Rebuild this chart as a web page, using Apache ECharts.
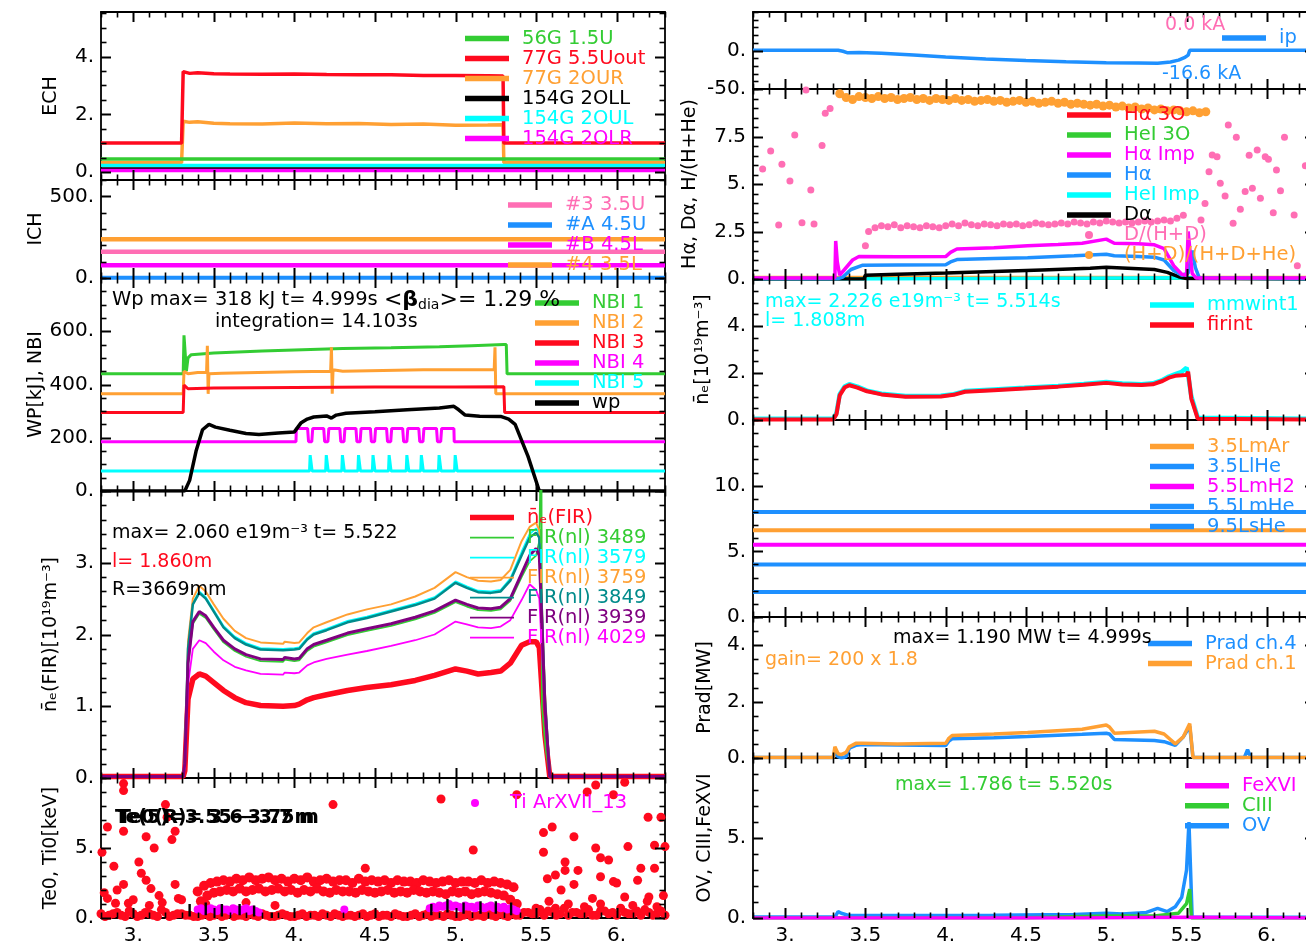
<!DOCTYPE html>
<html><head><meta charset="utf-8">
<script src="https://cdn.jsdelivr.net/npm/echarts@6/dist/echarts.min.js"></script>
<style>html,body{margin:0;padding:0;background:#fff}#c{width:1306px;height:944px}</style>
</head><body><div id="c"></div>
<script>
// ---------------- DATA ----------------
const X_MIN = 2.8, X_MAX = 6.3;
const xMajorTicks = [3, 3.5, 4, 4.5, 5, 5.5, 6];
const echTicks = [0, 2, 4], ichTicks = [0, 500], wpTicks = [0, 200, 400, 600], firTicks = [0, 1, 2, 3], teTicks = [0, 5];
const ipTicks = [-50, 0], haTicks = [0, 2.5, 5, 7.5], neTicks = [0, 2, 4], gasTicks = [0, 5, 10], pradTicks = [0, 2, 4], ovTicks = [0, 5];

const flatT = [2.8, 6.3];
// ECH
const echT = [2.8, 3.30, 3.31, 3.35, 3.4, 3.5, 3.6, 3.8, 4.0, 4.2, 4.4, 4.6, 4.8, 5.0, 5.2, 5.295, 5.30, 6.3];
const ech77out = [1.0, 1.0, 3.48, 3.42, 3.44, 3.41, 3.40, 3.39, 3.40, 3.38, 3.37, 3.37, 3.35, 3.35, 3.34, 3.33, 1.0, 1.0];
const ech77our = [0.32, 0.32, 1.76, 1.72, 1.74, 1.69, 1.67, 1.66, 1.70, 1.67, 1.68, 1.65, 1.66, 1.62, 1.63, 1.64, 0.32, 0.32];
const ech56 = [0.45, 0.45], ech2oll = [0.13, 0.13], ech2oul = [0.22, 0.22], ech2olr = [0.05, 0.05];
// ICH
const ich3 = [160, 160], ichA = [2, 2], ichB = [78, 78], ich4 = [237, 237];
// NBI / wp
const nbi1T = [2.8, 3.31, 3.315, 3.33, 3.34, 3.36, 3.5, 3.8, 4.0, 4.3, 4.6, 4.9, 5.1, 5.3, 5.315, 5.32, 6.3];
const nbi1V = [440, 440, 585, 450, 500, 512, 518, 526, 530, 535, 538, 542, 546, 550, 550, 440, 440];
const nbi2T = [2.8, 3.31, 3.315, 3.34, 3.40, 3.455, 3.46, 3.465, 3.47, 3.55, 4.0, 4.225, 4.23, 4.235, 4.24, 4.3, 4.8, 5.24, 5.245, 5.25, 5.255, 6.3];
const nbi2V = [365, 365, 450, 440, 445, 445, 545, 365, 440, 442, 448, 450, 540, 365, 455, 450, 455, 455, 540, 365, 365, 365];
const nbi3T = [2.8, 3.31, 3.315, 3.34, 3.5, 4.0, 4.5, 5.0, 5.3, 5.305, 6.3];
const nbi3V = [295, 295, 398, 384, 387, 389, 391, 391, 392, 295, 295];
const nbi4T = [2.8, 4.01, 4.012,
  4.082, 4.088, 4.108, 4.114, 4.182, 4.188, 4.208, 4.214, 4.282, 4.288, 4.308, 4.314,
  4.382, 4.388, 4.408, 4.414, 4.472, 4.478, 4.498, 4.504, 4.572, 4.578, 4.598, 4.604,
  4.672, 4.678, 4.698, 4.704, 4.772, 4.778, 4.798, 4.804, 4.882, 4.888, 4.908, 4.914,
  4.99, 4.992, 6.3];
const nbi4V = [185, 185, 235,
  235, 185, 185, 235, 235, 185, 185, 235, 235, 185, 185, 235,
  235, 185, 185, 235, 235, 185, 185, 235, 235, 185, 185, 235,
  235, 185, 185, 235, 235, 185, 185, 235, 235, 185, 185, 235,
  235, 185, 185];
const nbi5T = [2.8,
  4.094, 4.098, 4.106, 4.11, 4.194, 4.198, 4.206, 4.21, 4.294, 4.298, 4.306, 4.31,
  4.394, 4.398, 4.406, 4.41, 4.484, 4.488, 4.496, 4.50, 4.584, 4.588, 4.596, 4.60,
  4.694, 4.698, 4.706, 4.71, 4.784, 4.788, 4.796, 4.80, 4.894, 4.898, 4.906, 4.91,
  4.994, 4.998, 5.006, 5.01, 6.3];
const nbi5V = [75,
  75, 135, 130, 75, 75, 135, 130, 75, 75, 135, 130, 75,
  75, 135, 130, 75, 75, 135, 130, 75, 75, 135, 130, 75,
  75, 135, 130, 75, 75, 135, 130, 75, 75, 135, 130, 75,
  75, 135, 130, 75, 75];
const wpT = [2.8, 3.32, 3.35, 3.39, 3.43, 3.47, 3.51, 3.6, 3.7, 3.78, 3.9, 4.0, 4.01, 4.04, 4.08, 4.12, 4.2, 4.23, 4.26, 4.32, 4.5, 4.7, 4.9, 4.99, 5.02, 5.06, 5.15, 5.28, 5.33, 5.37, 5.45, 5.52, 6.3];
const wpV = [0, 0, 40, 150, 230, 250, 240, 228, 216, 212, 218, 222, 222, 255, 270, 278, 282, 274, 285, 292, 298, 305, 312, 318, 305, 285, 281, 280, 270, 250, 130, 0, 0];
// FIR
const firT = [2.8, 3.31, 3.32, 3.34, 3.37, 3.41, 3.45, 3.5, 3.56, 3.63, 3.7, 3.79, 3.93, 3.94, 4.0, 4.03, 4.08, 4.12, 4.2, 4.33, 4.45, 4.6, 4.75, 4.87, 5.0, 5.07, 5.14, 5.22, 5.28, 5.34, 5.41, 5.46, 5.5, 5.52, 5.555, 5.585, 6.3];
const firRed = [0.02, 0.02, 0.1, 1.1, 1.38, 1.45, 1.42, 1.33, 1.22, 1.12, 1.05, 1.01, 1.0, 1.02, 1.01, 1.03, 1.09, 1.12, 1.16, 1.22, 1.26, 1.3, 1.36, 1.43, 1.52, 1.49, 1.45, 1.47, 1.49, 1.6, 1.85, 1.9, 1.9, 1.82, 0.6, 0.02, 0.02];
const fir3759 = [0.02, 0.02, 0.2, 1.9, 2.5, 2.68, 2.6, 2.42, 2.22, 2.05, 1.95, 1.89, 1.87, 1.9, 1.88, 1.89, 2.02, 2.1, 2.17, 2.28, 2.35, 2.42, 2.53, 2.65, 2.87, 2.8, 2.75, 2.74, 2.76, 2.9, 3.3, 3.5, 3.56, 3.45, 1.2, 0.02, 0.02];
const fir3849 = [0.02, 0.02, 0.2, 1.8, 2.42, 2.58, 2.5, 2.32, 2.1, 1.95, 1.86, 1.79, 1.78, 1.8, 1.79, 1.8, 1.93, 2.0, 2.06, 2.17, 2.23, 2.32, 2.41, 2.5, 2.72, 2.65, 2.59, 2.58, 2.6, 2.75, 3.1, 3.35, 3.42, 3.35, 1.1, 0.02, 0.02];
const fir3579 = [0.02, 0.02, 0.2, 1.82, 2.44, 2.6, 2.52, 2.34, 2.12, 1.97, 1.88, 1.81, 1.8, 1.82, 1.81, 1.82, 1.95, 2.02, 2.08, 2.19, 2.25, 2.34, 2.43, 2.52, 2.74, 2.67, 2.61, 2.6, 2.62, 2.78, 3.15, 3.4, 3.48, 3.4, 1.1, 0.02, 0.02];
const fir3939 = [0.02, 0.02, 0.2, 1.6, 2.18, 2.32, 2.26, 2.1, 1.92, 1.8, 1.72, 1.66, 1.65, 1.68, 1.66, 1.67, 1.8, 1.86, 1.92, 2.02, 2.08, 2.15, 2.24, 2.33, 2.48, 2.42, 2.37, 2.36, 2.38, 2.5, 2.85, 3.1, 3.2, 3.1, 1.0, 0.02, 0.02];
const fir4029 = [0.02, 0.02, 0.15, 1.3, 1.8, 1.92, 1.88, 1.76, 1.64, 1.55, 1.5, 1.45, 1.44, 1.47, 1.46, 1.47, 1.57, 1.61, 1.66, 1.72, 1.77, 1.84, 1.92, 2.0, 2.18, 2.14, 2.1, 2.09, 2.11, 2.2, 2.48, 2.7, 2.62, 2.5, 0.9, 0.02, 0.02];
const firGreenT = [2.8, 3.31, 3.32, 3.34, 3.37, 3.41, 3.45, 3.5, 3.56, 3.63, 3.7, 3.79, 3.93, 3.94, 4.0, 4.03, 4.08, 4.12, 4.2, 4.33, 4.45, 4.6, 4.75, 4.87, 5.0, 5.07, 5.14, 5.22, 5.28, 5.34, 5.41, 5.46, 5.5, 5.52, 5.533, 5.536, 5.56, 5.585, 6.3];
const fir3489 = [0.02, 0.02, 0.2, 1.57, 2.15, 2.29, 2.23, 2.07, 1.89, 1.77, 1.69, 1.63, 1.62, 1.65, 1.63, 1.64, 1.77, 1.83, 1.89, 1.99, 2.05, 2.12, 2.21, 2.3, 2.45, 2.39, 2.34, 2.33, 2.35, 2.47, 2.8, 3.02, 3.1, 3.3, 5.0, 1.0, 0.4, 0.02, 0.02];
// Te0 / Ti0
const teUpT = [3.40,3.44,3.48,3.52,3.56,3.60,3.64,3.68,3.72,3.76,3.80,3.84,3.88,3.92,3.96,4.00,4.04,4.08,4.12,4.16,4.20,4.24,4.28,4.32,4.36,4.40,4.44,4.48,4.52,4.56,4.60,4.64,4.68,4.72,4.76,4.80,4.84,4.88,4.92,4.96,5.00,5.04,5.08,5.12,5.16,5.20,5.24,5.28,5.32,5.36];
const teUpV = [1.9,2.3,2.5,2.6,2.7,2.6,2.8,2.7,2.9,2.7,2.8,2.9,2.7,2.8,2.6,2.8,2.7,2.9,2.6,2.7,2.8,2.6,2.7,2.7,2.5,2.8,2.6,2.7,2.6,2.7,2.5,2.7,2.6,2.6,2.5,2.7,2.6,2.5,2.6,2.7,2.5,2.6,2.6,2.5,2.7,2.5,2.6,2.5,2.4,2.2];
const teLoT = [3.42,3.46,3.50,3.54,3.58,3.62,3.66,3.70,3.74,3.78,3.82,3.86,3.90,3.94,3.98,4.02,4.06,4.10,4.14,4.18,4.22,4.26,4.30,4.34,4.38,4.42,4.46,4.50,4.54,4.58,4.62,4.66,4.70,4.74,4.78,4.82,4.86,4.90,4.94,4.98,5.02,5.06,5.10,5.14,5.18,5.22,5.26,5.30,5.34,5.38];
const teLoV = [1.2,1.6,1.8,1.9,2.0,1.9,2.1,1.9,2.0,2.1,1.9,2.0,2.1,1.9,2.0,1.8,2.0,1.9,2.1,1.9,1.8,2.0,1.9,1.9,1.8,2.0,1.9,1.8,1.9,2.0,1.8,1.9,1.8,2.0,1.9,1.8,1.9,1.8,1.7,1.9,1.8,1.9,1.7,1.8,1.9,1.8,1.7,1.6,1.3,1.0];
const teBotT = [2.80,2.85,2.90,2.95,3.00,3.05,3.10,3.15,3.20,3.25,3.30,3.35,3.40,3.45,3.50,3.55,3.60,3.65,3.70,3.75,3.80,3.85,3.90,3.95,4.00,4.05,4.10,4.15,4.20,4.25,4.30,4.35,4.40,4.45,4.50,4.55,4.60,4.65,4.70,4.75,4.80,4.85,4.90,4.95,5.00,5.05,5.10,5.15,5.20,5.25,5.30,5.35,5.40,5.45,5.50,5.55,5.60,5.65,5.70,5.75,5.80,5.85,5.90,5.95,6.00,6.05,6.10,6.15,6.20,6.25,6.30];
const teBotV = [0.3,0.2,0.4,0.1,0.3,0.2,0.3,0.1,0.4,0.2,0.3,0.2,0.1,0.3,0.2,0.1,0.3,0.2,0.1,0.2,0.3,0.1,0.2,0.2,0.1,0.3,0.2,0.1,0.2,0.3,0.1,0.2,0.2,0.1,0.3,0.2,0.1,0.2,0.1,0.3,0.2,0.1,0.2,0.3,0.1,0.2,0.1,0.2,0.3,0.1,0.2,0.3,0.2,0.4,0.3,0.2,0.4,0.3,0.2,0.4,0.3,0.2,0.5,0.3,0.2,0.4,0.3,0.2,0.4,0.3,0.2];
const teBot2T = [2.825,2.875,2.925,2.975,3.025,3.075,3.125,3.175,3.225,3.275,3.325,3.375,3.425,3.475,3.525,3.575,3.625,3.675,3.725,3.775,3.825,3.875,3.925,3.975,4.025,4.075,4.125,4.175,4.225,4.275,4.325,4.375,4.425,4.475,4.525,4.575,4.625,4.675,4.725,4.775,4.825,4.875,4.925,4.975,5.025,5.075,5.125,5.175,5.225,5.275,5.325,5.375,5.425,5.475,5.525,5.575,5.625,5.675,5.725,5.775,5.825,5.875,5.925,5.975,6.025,6.075,6.125,6.175,6.225,6.275];
const teBot2V = [0.1,0.3,0.2,0.5,0.1,0.4,0.2,0.6,0.1,0.3,0.2,0.1,0.2,0.1,0.3,0.2,0.1,0.2,0.3,0.1,0.2,0.1,0.3,0.1,0.2,0.1,0.2,0.3,0.1,0.2,0.2,0.1,0.3,0.2,0.1,0.2,0.3,0.1,0.2,0.1,0.3,0.2,0.1,0.2,0.1,0.3,0.2,0.1,0.2,0.3,0.1,0.2,0.4,0.3,0.6,0.5,0.2,0.7,0.4,0.3,0.6,0.2,0.5,0.4,0.7,0.3,0.5,0.6,0.2,0.5];
const teOutT = [2.806,2.84,2.84,2.88,2.94,2.94,2.94,2.94,2.97,2.89,3.035,3.05,3.08,3.08,3.11,3.13,3.16,3.20,3.21,3.24,3.26,3.26,3.28,3.30,2.82,2.90,3.00,3.10,3.18,3.88,4.24,4.44,4.91,5.11,5.38,5.546,5.546,5.57,5.60,5.62,5.655,5.68,5.68,5.735,5.76,5.735,5.817,5.87,5.87,5.90,5.90,5.95,5.98,5.98,6.00,6.05,6.07,6.13,6.15,6.195,6.20,6.235,6.235,6.275,6.29,6.30,6.19,6.05,5.90,5.80,5.58,5.70,5.62,5.85,6.10,6.25,5.50,3.45,3.70];
const teOutV = [4.7,6.5,1.4,3.7,9.6,9.1,6.2,2.4,1.05,1.05,4.0,3.2,5.8,2.7,2.1,5.0,1.6,8.1,7.2,5.6,6.2,2.4,1.4,1.3,1.8,2.0,1.3,0.9,1.1,0.9,8.1,3.55,8.5,4.86,8.8,6.1,4.7,2.8,6.5,3.07,2.0,4.0,3.4,5.8,3.4,2.4,9.0,9.5,5.0,4.3,2.95,4.14,8.8,2.6,2.5,9.7,5.1,2.7,3.55,7.2,1.5,3.55,5.2,7.2,1.6,5.1,1.2,1.5,1.0,0.8,1.2,1.0,0.7,1.4,0.9,0.8,0.7,1.0,1.1];
const tiT = [3.40,3.42,3.44,3.46,3.48,3.50,3.52,3.54,3.56,3.58,3.60,3.62,3.64,3.66,3.68,3.70,3.72,3.74,3.76,3.78,4.31,
  4.84,4.86,4.88,4.90,4.92,4.94,4.96,4.98,5.00,5.02,5.04,5.06,5.08,5.10,5.12,5.14,5.16,5.18,5.20,5.22,5.24,5.26,5.28,5.30,5.32,5.34,5.36,5.38];
const tiV = [0.6,0.7,0.5,0.6,0.7,0.6,0.5,0.7,0.6,0.6,0.5,0.7,0.6,0.5,0.6,0.7,0.5,0.6,0.5,0.4,0.6,
  0.7,0.8,0.7,0.9,0.8,0.9,1.0,0.8,0.9,0.8,0.7,0.9,0.8,0.8,0.7,0.9,0.8,0.7,0.8,0.9,0.7,0.8,0.7,0.8,0.6,0.7,0.6,0.5];
const tiErrT = [3.35, 3.45, 3.55, 3.66, 3.75, 3.86, 4.85, 4.95, 5.05, 5.155, 5.25, 5.345];
const tiErrLo = [0.1, 0.2, 0.1, 0.2, 0.1, 0.0, 0.2, 0.4, 0.3, 0.3, 0.3, 0.2];
const tiErrHi = [1.0, 1.1, 1.0, 1.0, 0.9, 0.4, 1.0, 1.35, 1.1, 1.2, 1.2, 1.1];
// ip
const ipT = [2.8, 3.33, 3.36, 3.39, 3.46, 3.6, 3.8, 4.0, 4.25, 4.5, 4.75, 5.0, 5.2, 5.32, 5.4, 5.45, 5.49, 5.51, 5.52, 6.3];
const ipV = [0.3, 0.3, -1, -3, -2.5, -3.5, -6, -8.5, -11, -13, -14.5, -15.8, -16.3, -16.6, -15, -12.5, -9, -6, 0.3, 0.3];
// H alpha panel
const hdT = [3.34,3.38,3.42,3.46,3.50,3.54,3.58,3.62,3.66,3.70,3.74,3.78,3.82,3.86,3.90,3.94,3.98,4.02,4.06,4.10,4.14,4.18,4.22,4.26,4.30,4.34,4.38,4.42,4.46,4.50,4.54,4.58,4.62,4.66,4.70,4.74,4.78,4.82,4.86,4.90,4.94,4.98,5.02,5.06,5.10,5.14,5.18,5.22,5.26,5.30,5.34,5.38,5.42,5.46,5.50,5.54,5.58,5.62];
const hdV = [9.75,9.55,9.45,9.6,9.55,9.5,9.6,9.5,9.55,9.45,9.5,9.55,9.45,9.5,9.4,9.5,9.45,9.4,9.5,9.4,9.45,9.35,9.4,9.45,9.35,9.4,9.3,9.35,9.4,9.3,9.35,9.25,9.3,9.35,9.25,9.3,9.2,9.25,9.2,9.15,9.2,9.1,9.15,9.05,9.1,9.0,9.05,8.95,9.0,8.9,8.95,8.85,8.9,8.85,8.8,8.85,8.75,8.8];
const hdZero = [0.08, 0.08];
const pbT = [3.52,3.56,3.60,3.64,3.68,3.72,3.76,3.80,3.84,3.88,3.92,3.96,4.00,4.04,4.08,4.12,4.16,4.20,4.24,4.28,4.32,4.36,4.40,4.44,4.48,4.52,4.56,4.60,4.64,4.68,4.72,4.76,4.80,4.84,4.88,4.92,4.96,5.00,5.04,5.08,5.12,5.16,5.20,5.24,5.28,5.32,5.36,5.40,5.44,5.48];
const pbV = [2.5,2.7,2.8,2.75,2.85,2.7,2.8,2.75,2.7,2.8,2.75,2.7,2.8,2.9,2.8,2.95,2.85,2.8,2.9,2.85,2.8,2.9,2.85,2.9,2.8,2.85,2.95,2.9,2.85,2.9,2.95,2.9,3.0,2.95,2.9,3.0,2.95,3.05,3.0,2.95,3.0,2.95,3.0,3.05,3.0,3.05,3.1,3.05,3.2,3.35];
const pkT = [2.86,2.91,2.96,2.98,3.03,3.06,3.105,3.13,3.16,3.18,3.23,3.25,3.28,3.50,5.59,5.615,5.64,5.66,5.69,5.71,5.74,5.76,5.79,5.81,5.835,5.865,5.89,5.91,5.94,5.96,5.99,6.01,6.04,6.06,6.085,6.11,6.17,6.19,6.24];
const pkV = [5.79,6.74,2.84,6.04,5.16,7.58,2.96,9.95,4.68,2.89,7.02,8.72,8.98,1.75,3.1,3.98,5.65,6.53,6.44,5.04,4.37,8.1,2.93,7.46,3.67,4.6,6.51,4.77,6.79,4.25,6.44,6.3,3.49,5.74,4.65,7.46,3.37,0.7,5.96];
const haImpT = [2.8, 3.31, 3.315, 3.325, 3.34, 3.37, 3.42, 3.46, 3.7, 4.0, 4.03, 4.07, 4.3, 4.51, 4.7, 4.85, 5.0, 5.05, 5.2, 5.3, 5.36, 5.42, 5.47, 5.5, 5.51, 5.535, 5.56, 6.3];
const haImpV = [0.05, 0.05, 2.0, 0.9, 0.2, 0.5, 1.0, 1.18, 1.17, 1.18, 1.4, 1.58, 1.65, 1.75, 1.82, 1.88, 2.1, 1.88, 1.85, 1.8, 1.6, 0.7, 0.25, 0.2, 2.5, 0.3, 0.05, 0.05];
const haT = [2.8, 3.33, 3.36, 3.41, 3.48, 3.7, 4.0, 4.03, 4.07, 4.3, 4.51, 4.8, 5.0, 5.05, 5.2, 5.3, 5.36, 5.42, 5.47, 5.51, 5.535, 5.555, 5.58, 6.3];
const haV = [0.02, 0.02, 0.1, 0.5, 0.72, 0.74, 0.75, 0.9, 1.02, 1.08, 1.12, 1.22, 1.3, 1.22, 1.18, 1.15, 1.0, 0.45, 0.2, 0.3, 1.5, 0.6, 0.05, 0.02];
const daT = [2.8, 3.49, 3.5, 3.7, 4.0, 4.3, 4.6, 4.9, 5.0, 5.1, 5.3, 5.38, 5.45, 5.5, 6.3];
const daV = [0.0, 0.0, 0.2, 0.25, 0.32, 0.4, 0.48, 0.56, 0.62, 0.58, 0.5, 0.35, 0.12, 0.02, 0.0];
const heImpT = [2.8, 3.49, 3.5, 5.5, 5.51, 6.3];
const heImpV = [0, 0, 0.06, 0.06, 0, 0];
const ha3oV = [0.02, 0.02], he3oV = [0.02, 0.02];
// line-averaged density (right)
const neRT = [2.8, 3.3, 3.32, 3.34, 3.37, 3.40, 3.45, 3.51, 3.6, 3.75, 3.97, 4.05, 4.12, 4.3, 4.49, 4.7, 4.86, 5.0, 5.1, 5.22, 5.29, 5.35, 5.39, 5.43, 5.47, 5.5, 5.51, 5.53, 5.57, 6.3];
const mmwV = [0.05, 0.05, 0.3, 1.1, 1.42, 1.52, 1.42, 1.25, 1.12, 1.02, 1.03, 1.1, 1.23, 1.3, 1.37, 1.45, 1.53, 1.62, 1.55, 1.52, 1.56, 1.7, 1.85, 1.95, 2.05, 2.22, 1.9, 1.0, 0.1, 0.05];
const firintV = [0.02, 0.02, 0.25, 1.05, 1.38, 1.48, 1.38, 1.22, 1.09, 0.99, 1.0, 1.07, 1.2, 1.27, 1.34, 1.42, 1.5, 1.58, 1.51, 1.49, 1.52, 1.66, 1.8, 1.88, 1.9, 1.92, 2.05, 0.9, 0.05, 0.02];
// gas puff
const gasAr = [6.6, 6.6], gasLlHe = [8.0, 8.0], gasH2 = [5.5, 5.5], gasMHe = [4.0, 4.0], gasSHe = [1.9, 1.9];
// Prad
const pradT = [2.8, 3.30, 3.31, 3.33, 3.35, 3.38, 3.40, 3.44, 3.48, 3.7, 4.0, 4.02, 4.04, 4.3, 4.51, 4.85, 5.0, 5.02, 5.05, 5.3, 5.36, 5.43, 5.48, 5.52, 5.54, 5.86, 5.88, 5.9, 6.3];
const prad4 = [0.02, 0.02, 0.2, 0.05, 0.0, 0.05, 0.35, 0.45, 0.48, 0.46, 0.44, 0.6, 0.68, 0.72, 0.76, 0.84, 0.88, 0.85, 0.66, 0.62, 0.58, 0.45, 0.75, 1.12, 0.02, 0.02, 0.3, 0.02, 0.02];
const prad1 = [0.02, 0.02, 0.4, 0.15, 0.12, 0.2, 0.4, 0.52, 0.52, 0.5, 0.52, 0.7, 0.8, 0.85, 0.9, 1.02, 1.17, 1.1, 0.88, 0.95, 0.85, 0.5, 0.75, 1.22, 0.02, 0.02, 0.02, 0.02, 0.02];
// impurity lines
const ovT = [2.8, 3.31, 3.33, 3.35, 3.4, 3.8, 4.3, 4.8, 5.0, 5.1, 5.25, 5.32, 5.38, 5.43, 5.47, 5.5, 5.515, 5.525, 5.535, 6.3];
const ovV = [0.06, 0.06, 0.4, 0.3, 0.15, 0.16, 0.17, 0.22, 0.3, 0.25, 0.35, 0.6, 0.4, 0.7, 1.3, 3.0, 6.0, 6.0, 0.05, 0.05];
const ciT = [2.8, 4.5, 5.0, 5.3, 5.45, 5.5, 5.52, 5.53, 6.3];
const ciV = [0.0, 0.02, 0.12, 0.12, 0.3, 0.9, 1.8, 0.0, 0.0];
const feT = [2.8, 4.85, 4.86, 5.5, 5.51, 6.3];
const feV = [0, 0, 0.05, 0.05, 0, 0];

// ---------------- STYLE / LAYOUT ----------------
const FONT = 'DejaVu Sans';
const C = { green:'#33cc33', red:'#ff0a1e', orange:'#ffa033', black:'#000000', cyan:'#00ffff', magenta:'#ff00ff', blue:'#1e90ff', pink:'#ff6eb4', teal:'#008b8b', purple:'#800080' };
const LX = 101, LW = 564, RX = 753, RW = 562;
const layout = [
  {l:LX, w:LW, t:12,  h:168, min:-0.28, max:5.55, ticks:echTicks, minor:0.5, name:'ECH', gap:40},
  {l:LX, w:LW, t:180, h:98,  min:0, max:600, ticks:ichTicks,  minor:100, name:'ICH', gap:40},
  {l:LX, w:LW, t:278, h:213, min:0, max:800, ticks:wpTicks,   minor:50,  name:'WP[kJ], NBI', gap:40},
  {l:LX, w:LW, t:491, h:287, min:0, max:4,   ticks:firTicks,  minor:0.2, name:'n\u0304\u2091(FIR)[10\u00b9\u2079m\u207b\u00b3]', gap:40},
  {l:LX, w:LW, t:778, h:140, min:0, max:10,  ticks:teTicks,   minor:1,   name:'Te0, Ti0[keV]', gap:40, xl:true},
  {l:RX, w:RW, t:12,  h:77,  min:-50, max:50, ticks:ipTicks,  minor:10,  name:'', gap:40},
  {l:RX, w:RW, t:89,  h:190, min:0, max:10,  ticks:haTicks,   minor:0.5, name:'H\u03b1, D\u03b1, H/(H+He)', gap:53},
  {l:RX, w:RW, t:279, h:141, min:0, max:6,   ticks:neTicks,   minor:0.5, name:'n\u0304\u2091[10\u00b9\u2079m\u207b\u00b3]', gap:40},
  {l:RX, w:RW, t:420, h:197, min:0, max:15,  ticks:gasTicks,  minor:1,   name:'', gap:40},
  {l:RX, w:RW, t:617, h:141, min:0, max:5,   ticks:pradTicks, minor:0.5, name:'Prad[MW]', gap:38},
  {l:RX, w:RW, t:758, h:160, min:0, max:10,  ticks:ovTicks,   minor:1,   name:'OV, CIII,FeXVI', gap:38, xl:true}
];

function fmt(v) { const r = Math.round(v); return Math.abs(v - r) < 1e-9 ? r + '.' : String(+v.toFixed(3)); }
function minors(lo, hi, step, majors) {
  const out = []; const s = Math.ceil(lo / step - 1e-9);
  for (let k = s; k * step <= hi + 1e-9; k++) { const v = +(k * step).toFixed(6); if (!majors.some(m => Math.abs(m - v) < 1e-9)) out.push(v); }
  return out;
}
const xMinorTicks = minors(X_MIN, X_MAX, 0.1, xMajorTicks);
const frameLine = { color:'#000', width:1.8 };
const labelBase = { color:'#000', fontFamily:FONT, fontSize:20 };

const grids = [], xAxes = [], yAxes = [];
layout.forEach((p, g) => {
  grids.push({ left:p.l, top:p.t, width:p.w, height:p.h, containLabel:false, outerBoundsMode:'none', show:false });
  const xb = { type:'value', gridIndex:g, min:X_MIN, max:X_MAX, splitLine:{show:false}, axisTick:{show:false}, axisPointer:{show:false} };
  xAxes.push(Object.assign({}, xb, { position:'bottom', axisLine:{show:true, onZero:false, lineStyle:frameLine},
    axisLabel: p.xl ? Object.assign({show:true, customValues:xMajorTicks, formatter:fmt, margin:8}, labelBase) : {show:false} }));
  xAxes.push(Object.assign({}, xb, { position:'top', axisLine:{show:true, onZero:false, lineStyle:frameLine}, axisLabel:{show:false} }));
  const yb = { type:'value', gridIndex:g, min:p.min, max:p.max, splitLine:{show:false}, axisTick:{show:false}, axisPointer:{show:false} };
  yAxes.push(Object.assign({}, yb, { position:'left', axisLine:{show:true, onZero:false, lineStyle:frameLine},
    axisLabel: Object.assign({show:true, customValues:p.ticks, formatter:fmt, margin:7}, labelBase),
    name:p.name, nameLocation:'middle', nameRotate:90, nameGap:p.gap, nameTextStyle:{fontFamily:FONT, fontSize:19, color:'#000'} }));
  yAxes.push(Object.assign({}, yb, { position:'right', axisLine:{show:true, onZero:false, lineStyle:frameLine}, axisLabel:{show:false} }));
});

function pairs(t, v) { return t.map((x, i) => [x, v[i]]); }
function line(name, g, t, v, color, width, z) {
  return { type:'line', name, xAxisIndex:2 * g, yAxisIndex:2 * g, data:pairs(t, v), showSymbol:false, symbol:'none',
    lineStyle:{color, width: width || 3.5}, itemStyle:{color}, animation:false, silent:true, z: z || 2 };
}
function scatter(name, g, data, color, size) {
  return { type:'scatter', name, xAxisIndex:2 * g, yAxisIndex:2 * g, data, symbol:'circle', symbolSize:size || 8,
    itemStyle:{color, opacity:1}, animation:false, silent:true };
}
// Ti error bars: vertical segments separated by gaps
const tiErrData = [];
tiErrT.forEach((t, i) => { tiErrData.push([t, tiErrLo[i]], [t, tiErrHi[i]], [t, '-']); });

const series = [
  // ECH
  line('77G 2OUR', 0, echT, ech77our, C.orange, 3.5),
  line('56G 1.5U', 0, flatT, ech56, C.green, 3.5),
  line('154G 2OUL', 0, flatT, ech2oul, C.cyan, 3.5),
  line('154G 2OLL', 0, flatT, ech2oll, C.black, 2),
  line('154G 2OLR', 0, flatT, ech2olr, C.magenta, 3.5),
  line('77G 5.5Uout', 0, echT, ech77out, C.red, 3.5),
  // ICH
  line('#4 3.5L', 1, flatT, ich4, C.orange, 4.5),
  line('#3 3.5U', 1, flatT, ich3, C.pink, 4.5),
  line('#B 4.5L', 1, flatT, ichB, C.magenta, 4.5),
  line('#A 4.5U', 1, flatT, ichA, C.blue, 4),
  // NBI / wp
  line('NBI 1', 2, nbi1T, nbi1V, C.green, 3),
  line('NBI 2', 2, nbi2T, nbi2V, C.orange, 3),
  line('NBI 3', 2, nbi3T, nbi3V, C.red, 3),
  line('NBI 4', 2, nbi4T, nbi4V, C.magenta, 3),
  line('NBI 5', 2, nbi5T, nbi5V, C.cyan, 3),
  line('wp', 2, wpT, wpV, C.black, 3.5),
  // FIR
  line('n\u0304\u2091(FIR)', 3, firT, firRed, C.red, 5.5),
  line('FIR(nl) 3489', 3, firGreenT, fir3489, C.green, 1.8),
  line('FIR(nl) 3579', 3, firT, fir3579, C.cyan, 1.8),
  line('FIR(nl) 3759', 3, firT, fir3759, C.orange, 2),
  line('FIR(nl) 3849', 3, firT, fir3849, C.teal, 2.5),
  line('FIR(nl) 4029', 3, firT, fir4029, C.magenta, 1.8),
  line('FIR(nl) 3939', 3, firT, fir3939, C.purple, 3),
  // Te0 / Ti0
  scatter('Te0', 4, pairs(teBotT, teBotV).concat(pairs(teBot2T, teBot2V), pairs(teOutT, teOutV)), C.red, 9),
  scatter('Te0 band', 4, pairs(teUpT, teUpV).concat(pairs(teLoT, teLoV)), C.red, 10),
  scatter('Ti ArXVII_13', 4, pairs(tiT, tiV), C.magenta, 8),
  { type:'line', name:'Ti err', xAxisIndex:8, yAxisIndex:8, data:tiErrData, showSymbol:false, symbol:'none', connectNulls:false,
    lineStyle:{color:'#000', width:2.4}, itemStyle:{color:'#000'}, animation:false, silent:true, z:5 },
  // ip
  line('ip', 5, ipT, ipV, C.blue, 3.5),
  // H alpha
  line('hdzero', 6, flatT, hdZero, C.orange, 3.5),
  scatter('D/(H+D)', 6, pairs(pkT, pkV).concat(pairs(pbT, pbV)), C.pink, 7),
  scatter('(H+D)/(H+D+He)', 6, pairs(hdT, hdV), C.orange, 9),
  line('H\u03b1 3O', 6, flatT, ha3oV, C.red, 3),
  line('HeI 3O', 6, flatT, he3oV, C.green, 3),
  line('HeI Imp', 6, heImpT, heImpV, C.cyan, 3.5),
  line('D\u03b1', 6, daT, daV, C.black, 3.5),
  line('H\u03b1', 6, haT, haV, C.blue, 3.5),
  line('H\u03b1 Imp', 6, haImpT, haImpV, C.magenta, 3.5),
  // ne right
  line('mmwint1', 7, neRT, mmwV, C.cyan, 4.5),
  line('firint', 7, neRT, firintV, C.red, 4),
  // gas
  line('3.5LmAr', 8, flatT, gasAr, C.orange, 4),
  line('3.5LlHe', 8, flatT, gasLlHe, C.blue, 4),
  line('5.5LmH2', 8, flatT, gasH2, C.magenta, 4),
  line('5.5LmHe', 8, flatT, gasMHe, C.blue, 4),
  line('9.5LsHe', 8, flatT, gasSHe, C.blue, 4),
  // Prad
  line('Prad ch.4', 9, pradT, prad4, C.blue, 3.5),
  line('Prad ch.1', 9, pradT, prad1, C.orange, 3.5),
  // impurity
  line('OV', 10, ovT, ovV, C.blue, 3.5),
  line('CIII', 10, ciT, ciV, C.green, 3.5),
  line('FeXVI', 10, feT, feV, C.magenta, 3.5)
];

const THICK = 'path://M0,0h80v10h-80z', THIN = 'path://M0,0h80v3h-80z';
function lg(left, top, lh, items) {
  return { orient:'vertical', left, top, padding:0, itemGap:0, itemWidth:44, itemHeight:8, selectedMode:false,
    symbolKeepAspect:true, itemStyle:{borderWidth:0},
    textStyle:{fontFamily:FONT, fontSize:19.5, lineHeight:lh, padding:[0, 0, 0, 8]},
    data: items.map(it => ({ name:it[0], icon:it[2] || THICK, textStyle:{color:it[1]} })) };
}
const legends = [
  lg(465, 28.5, 19, [['56G 1.5U', C.green], ['77G 5.5Uout', C.red], ['77G 2OUR', C.orange], ['154G 2OLL', C.black], ['154G 2OUL', C.cyan], ['154G 2OLR', C.magenta]]),
  lg(508, 195, 19.7, [['#3 3.5U', C.pink], ['#A 4.5U', C.blue], ['#B 4.5L', C.magenta], ['#4 3.5L', C.orange]]),
  lg(535, 293, 19.8, [['NBI 1', C.green], ['NBI 2', C.orange], ['NBI 3', C.red], ['NBI 4', C.magenta], ['NBI 5', C.cyan], ['wp', C.black]]),
  lg(470, 507.6, 18.8, [['n\u0304\u2091(FIR)', C.red], ['FIR(nl) 3489', C.green, THIN], ['FIR(nl) 3579', C.cyan, THIN], ['FIR(nl) 3759', C.orange, THIN], ['FIR(nl) 3849', C.teal, THIN], ['FIR(nl) 3939', C.purple, THIN], ['FIR(nl) 4029', C.magenta, THIN]]),
  lg(471, 793, 20, [['Ti ArXVII_13', C.magenta, 'circle']]),
  lg(1222, 28, 20, [['ip', C.blue]]),
  lg(1067, 105, 19.7, [['H\u03b1 3O', C.red], ['HeI 3O', C.green], ['H\u03b1 Imp', C.magenta], ['H\u03b1', C.blue], ['HeI Imp', C.cyan], ['D\u03b1', C.black], ['D/(H+D)', C.pink, 'circle'], ['(H+D)/(H+D+He)', C.orange, 'circle']]),
  lg(1150, 295, 20, [['mmwint1', C.cyan], ['firint', C.red]]),
  lg(1150, 436.5, 19, [['3.5LmAr', C.orange], ['3.5LlHe', C.blue], ['5.5LmH2', C.magenta], ['5.5LmHe', C.blue], ['9.5LsHe', C.blue]]),
  lg(1148, 633.5, 19, [['Prad ch.4', C.blue], ['Prad ch.1', C.orange]]),
  lg(1185, 775.75, 18.5, [['FeXVI', C.magenta], ['CIII', C.green], ['OV', C.blue]])
];

function txt(text, x, y, color, font, extra) {
  return { type:'text', x, y, z:100, silent:true,
    style: Object.assign({ text, fill:color, font: font || ('19px "' + FONT + '"'), align:'left', verticalAlign:'middle' }, extra || {}) };
}
const BOLD19 = 'bold 19px "' + FONT + '"';
const graphics = [
  txt('{n|Wp max= 318 kJ t= 4.999s }{L|<}{b|\u03b2}{s|dia}{L|>= 1.29 %}', 112, 300, '#000', null, {
    rich: { n:{fontSize:19.5, fontFamily:FONT, lineHeight:24}, L:{fontSize:22, fontFamily:FONT, lineHeight:24},
            b:{fontSize:22, fontFamily:FONT, fontWeight:'bold', lineHeight:24}, s:{fontSize:14, fontFamily:FONT, lineHeight:15, verticalAlign:'bottom'} } }),
  txt('integration= 14.103s', 215, 322, '#000'),
  txt('max= 2.060 e19m\u207b\u00b3 t= 5.522', 112, 533, '#000'),
  txt('l= 1.860m', 112, 562, C.red),
  txt('R=3669mm', 112, 590, '#000'),
  txt('Te(5)=3.55\u22123.75m', 115, 818, '#000', BOLD19),
  txt('Te0(R)= 3.6\u22123.7 m', 118, 818, '#000', BOLD19),
  txt('0.0 kA', 1165, 25, C.pink),
  txt('-16.6 kA', 1162, 74, C.blue),
  txt('max= 2.226 e19m\u207b\u00b3 t= 5.514s', 765, 302, C.cyan),
  txt('l= 1.808m', 765, 321, C.cyan),
  txt('max= 1.190 MW t= 4.999s', 893, 638, '#000'),
  txt('gain= 200 x 1.8', 765, 660, C.orange),
  txt('max= 1.786 t= 5.520s', 895, 785, C.green)
];

const chart = echarts.init(document.getElementById('c'), null, { renderer:'canvas' });
chart.setOption({
  animation:false, backgroundColor:'#ffffff',
  textStyle:{fontFamily:FONT},
  grid:grids, xAxis:xAxes, yAxis:yAxes, legend:legends, series, graphic:graphics
});

// inward tick marks on all four sides of each panel, positioned through each panel's own scales
const TICK_MAJ = 10, TICK_MIN = 5.5;
const tickEls = [];
function tk(x1, y1, x2, y2, w) {
  tickEls.push({ type:'line', silent:true, z:50, shape:{x1, y1, x2, y2}, style:{stroke:'#000', lineWidth:w} });
}
layout.forEach((p, g) => {
  const finder = { xAxisIndex:2 * g, yAxisIndex:2 * g };
  const P = (x, y) => chart.convertToPixel(finder, [x, y]);
  const bl = P(X_MIN, p.min), tr = P(X_MAX, p.max);
  if (!bl || !tr) return;
  const bot = bl[1], top = tr[1], lft = bl[0], rgt = tr[0];
  const yMinor = minors(p.min, p.max, p.minor, p.ticks);
  xMajorTicks.forEach(t => { const x = Math.round(P(t, p.min)[0]) + 0.5; tk(x, bot, x, bot - TICK_MAJ, 2); tk(x, top, x, top + TICK_MAJ, 2); });
  xMinorTicks.forEach(t => { const x = Math.round(P(t, p.min)[0]) + 0.5; tk(x, bot, x, bot - TICK_MIN, 1.6); tk(x, top, x, top + TICK_MIN, 1.6); });
  p.ticks.forEach(v => { const y = Math.round(P(X_MIN, v)[1]) + 0.5; tk(lft, y, lft + TICK_MAJ, y, 2); tk(rgt, y, rgt - TICK_MAJ, y, 2); });
  yMinor.forEach(v => { const y = Math.round(P(X_MIN, v)[1]) + 0.5; tk(lft, y, lft + TICK_MIN, y, 1.6); tk(rgt, y, rgt - TICK_MIN, y, 1.6); });
});
chart.setOption({ graphic: graphics.concat(tickEls) });
</script></body></html>
